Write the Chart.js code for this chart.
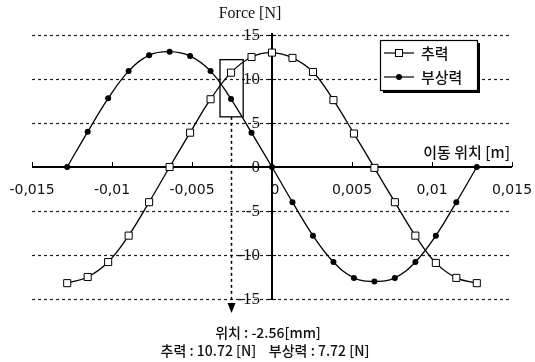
<!DOCTYPE html>
<html>
<head>
<meta charset="utf-8">
<script src="https://cdn.jsdelivr.net/npm/chart.js@4/dist/chart.umd.min.js"></script>
<style>
  html, body { margin: 0; padding: 0; background: #fff; }
  canvas { display: block; }
</style>
</head>
<body>
<canvas id="forceChart" width="535" height="362"></canvas>
<script>
// ---------------------------------------------------------------
// data
// ---------------------------------------------------------------
const POSITIONS = [-0.0128, -0.01152, -0.01024, -0.00896, -0.00768, -0.0064, -0.00512,
  -0.00384, -0.00256, -0.00128, 0, 0.00128, 0.00256, 0.00384, 0.00512, 0.0064,
  0.00768, 0.00896, 0.01024, 0.01152, 0.0128];

const THRUST = [-13.2, -12.5, -10.8, -7.8, -4.0, 0, 3.9, 7.7, 10.72, 12.5, 13.0,
  12.4, 10.8, 7.6, 3.8, -0.1, -4.0, -7.8, -10.9, -12.6, -13.2];

const LEVITATION = [0, 4.0, 7.8, 10.9, 12.7, 13.1, 12.6, 10.9, 7.72, 3.9, 0,
  -4.0, -7.8, -10.8, -12.6, -13.0, -12.6, -10.8, -7.8, -4.0, 0];

const X_TICKS = [-0.015, -0.01, -0.005, 0, 0.005, 0.01, 0.015];
const X_LABELS = ['-0,015', '-0,01', '-0,005', '0', '0,005', '0,01', '0,015'];
const Y_TICKS = [15, 10, 5, 0, -5, -10, -15];

const SERIES_NAMES = ['추력', '부상력'];

// marked point (box + arrow)
const MARK_POS = -0.00256;
const MARK_BOX = [-0.00325, -0.0018, 12.2, 5.7];   // x0, x1, yTop, yBottom
const MARK_TEXT = ['위치 : -2.56[mm]', '추력 : 10.72 [N]    부상력 : 7.72 [N]'];

const KR = '"Noto Sans CJK KR", "Noto Sans", sans-serif';

// ---------------------------------------------------------------
// axes, grid, labels drawn through the chart's scales
// ---------------------------------------------------------------
const axesPlugin = {
  id: 'axesPlugin',
  beforeDatasetsDraw(chart) {
    const { ctx, scales: { x, y } } = chart;
    const xl = x.getPixelForValue(-0.015), xr = x.getPixelForValue(0.015);
    const x0 = x.getPixelForValue(0), y0 = y.getPixelForValue(0);
    ctx.save();

    // y tick labels
    ctx.fillStyle = '#111';
    ctx.font = '17px "Liberation Serif", serif';
    ctx.textAlign = 'right';
    ctx.textBaseline = 'middle';
    Y_TICKS.forEach(v => ctx.fillText(String(v), x0 - 12, y.getPixelForValue(v) + 1));

    // dashed grid
    ctx.strokeStyle = '#222';
    ctx.lineWidth = 1.2;
    ctx.setLineDash([3, 3]);
    Y_TICKS.filter(v => v !== 0).forEach(v => {
      const py = Math.round(y.getPixelForValue(v)) + 0.5;
      ctx.beginPath(); ctx.moveTo(xl, py); ctx.lineTo(xr, py); ctx.stroke();
    });
    ctx.setLineDash([]);

    // axis lines
    ctx.strokeStyle = '#000';
    ctx.lineWidth = 2;
    ctx.beginPath(); ctx.moveTo(xl, y0); ctx.lineTo(xr, y0); ctx.stroke();
    ctx.beginPath(); ctx.moveTo(x0, y.getPixelForValue(15) - 2); ctx.lineTo(x0, y.getPixelForValue(-15)); ctx.stroke();

    // ticks
    ctx.lineWidth = 1;
    X_TICKS.forEach(v => {
      const px = Math.round(x.getPixelForValue(v)) + 0.5;
      ctx.beginPath(); ctx.moveTo(px, y0); ctx.lineTo(px, y0 - 5); ctx.stroke();
    });
    Y_TICKS.forEach(v => {
      const py = Math.round(y.getPixelForValue(v)) + 0.5;
      ctx.beginPath(); ctx.moveTo(x0 - 4, py); ctx.lineTo(x0 + 4, py); ctx.stroke();
    });

    // x tick labels (below axis)
    ctx.fillStyle = '#111';
    ctx.font = '14px "DejaVu Sans", sans-serif';
    ctx.textAlign = 'center';
    X_TICKS.forEach((v, i) => {
      const dx = v === 0 ? 3 : 0;
      ctx.fillText(X_LABELS[i], x.getPixelForValue(v) + dx, y0 + 23);
    });

    // axis titles
    ctx.font = '16px "Liberation Serif", serif';
    ctx.fillText('Force [N]', x0 - 22, y.getPixelForValue(15) - 21);
    ctx.font = '500 15px ' + KR;
    ctx.textAlign = 'right';
    ctx.fillText('이동 위치 [m]', xr - 2, y0 - 15);

    // marked window
    const bx0 = x.getPixelForValue(MARK_BOX[0]), bx1 = x.getPixelForValue(MARK_BOX[1]);
    const by0 = y.getPixelForValue(MARK_BOX[2]), by1 = y.getPixelForValue(MARK_BOX[3]);
    ctx.lineWidth = 1.3;
    ctx.strokeRect(bx0, by0, bx1 - bx0, by1 - by0);

    const mx = Math.round(x.getPixelForValue(MARK_POS)) + 0.5;
    const arrowY = y.getPixelForValue(-15) + 12;
    ctx.lineWidth = 1.5;
    ctx.setLineDash([3, 3]);
    ctx.beginPath(); ctx.moveTo(mx, by1); ctx.lineTo(mx, arrowY - 6); ctx.stroke();
    ctx.setLineDash([]);
    ctx.fillStyle = '#000';
    ctx.beginPath();
    ctx.moveTo(mx - 4, arrowY - 8); ctx.lineTo(mx + 4, arrowY - 8); ctx.lineTo(mx, arrowY + 2);
    ctx.closePath(); ctx.fill();

    ctx.restore();
  },
  afterDraw(chart) {
    const { ctx } = chart;
    ctx.save();

    // legend box with shadow
    const lx = 380, ly = 40, lw = 97, lh = 50;
    ctx.fillStyle = '#000';
    ctx.fillRect(lx + 3, ly + 3, lw, lh);
    ctx.fillStyle = '#fff';
    ctx.fillRect(lx, ly, lw, lh);
    ctx.strokeStyle = '#000';
    ctx.lineWidth = 1.2;
    ctx.strokeRect(lx + 0.5, ly + 0.5, lw, lh);

    chart.data.datasets.forEach((ds, i) => {
      const cy = ly + 13 + i * 24;
      ctx.strokeStyle = '#000';
      ctx.lineWidth = 1.2;
      ctx.beginPath(); ctx.moveTo(lx + 4, cy); ctx.lineTo(lx + 34, cy); ctx.stroke();
      if (ds.pointStyle === 'rect') {
        ctx.fillStyle = '#fff';
        ctx.lineWidth = 1;
        ctx.fillRect(lx + 15.5, cy - 3.5, 7, 7);
        ctx.strokeRect(lx + 15.5, cy - 3.5, 7, 7);
      } else {
        ctx.fillStyle = '#000';
        ctx.beginPath(); ctx.arc(lx + 19, cy, 3, 0, Math.PI * 2); ctx.fill();
      }
      ctx.fillStyle = '#111';
      ctx.font = '500 15px ' + KR;
      ctx.textAlign = 'left';
      ctx.textBaseline = 'middle';
      ctx.fillText(ds.label, lx + 41, cy);
    });

    // caption under the chart
    ctx.fillStyle = '#111';
    ctx.font = '500 14px ' + KR;
    ctx.textAlign = 'center';
    ctx.textBaseline = 'middle';
    ctx.fillText(MARK_TEXT[0], 268, 333);
    ctx.fillText(MARK_TEXT[1], 265, 351);

    ctx.restore();
  }
};

// ---------------------------------------------------------------
// chart
// ---------------------------------------------------------------
const toPoints = vals => vals.map((v, i) => ({ x: POSITIONS[i], y: v }));

new Chart(document.getElementById('forceChart').getContext('2d'), {
  type: 'line',
  data: {
    datasets: [
      {
        label: SERIES_NAMES[0],
        data: toPoints(THRUST),
        borderColor: '#000',
        borderWidth: 1.3,
        pointStyle: 'rect',
        pointRadius: 5,
        pointBackgroundColor: '#fff',
        pointBorderColor: '#000',
        pointBorderWidth: 1,
        tension: 0.4
      },
      {
        label: SERIES_NAMES[1],
        data: toPoints(LEVITATION),
        borderColor: '#000',
        borderWidth: 1.3,
        pointStyle: 'circle',
        pointRadius: 3,
        pointBackgroundColor: '#000',
        pointBorderColor: '#000',
        pointBorderWidth: 0,
        tension: 0.4
      }
    ]
  },
  options: {
    responsive: false,
    animation: false,
    layout: { padding: { left: 32, right: 23, top: 35, bottom: 63 } },
    scales: {
      x: { type: 'linear', min: -0.015, max: 0.015, display: false },
      y: { type: 'linear', min: -15, max: 15, display: false }
    },
    plugins: {
      legend: { display: false },
      tooltip: { enabled: false }
    }
  },
  plugins: [axesPlugin]
});
</script>
</body>
</html>
